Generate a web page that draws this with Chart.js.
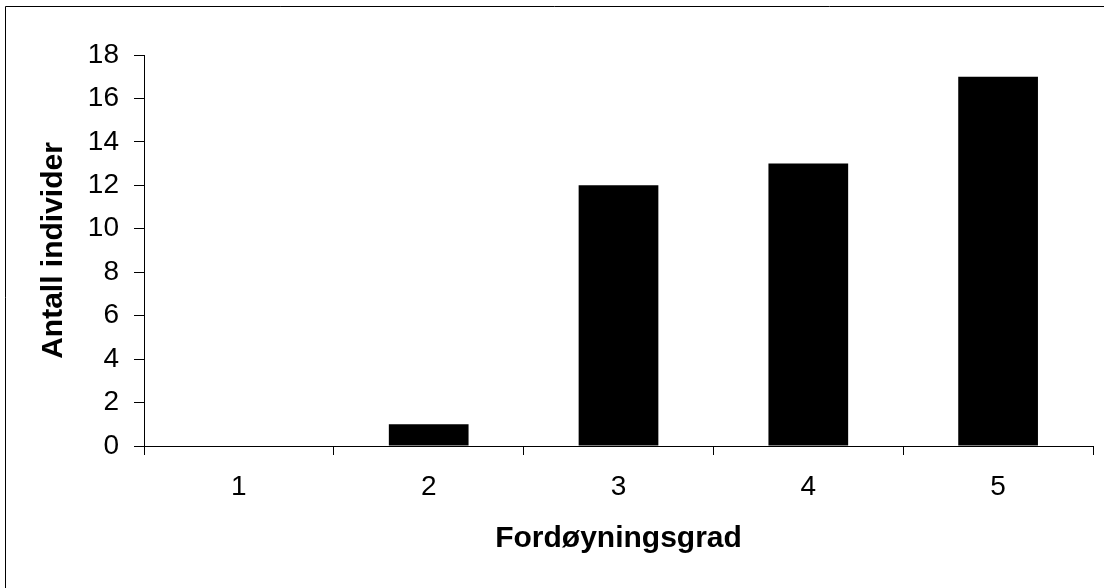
<!DOCTYPE html>
<html>
<head>
<meta charset="utf-8">
<script src="https://cdn.jsdelivr.net/npm/chart.js@4"></script>
<style>
  html, body { margin: 0; padding: 0; background: #fff; }
  #wrap { width: 1104px; height: 588px; position: relative; }
  canvas { display: block; }
</style>
</head>
<body>
<div id="wrap"><canvas id="c" width="1104" height="588"></canvas></div>
<script>
const categories = ['1', '2', '3', '4', '5'];
const counts = [0, 1, 12, 13, 17];
const yTitle = 'Antall individer';
const xTitle = 'Fordøyningsgrad';

const FONT = '"Liberation Sans", Arial, sans-serif';

const frame = {
  id: 'frame',
  beforeDraw(chart) {
    const ctx = chart.ctx;
    ctx.save();
    ctx.fillStyle = '#fff';
    ctx.fillRect(0, 0, chart.width, chart.height);
    ctx.strokeStyle = '#000';
    ctx.lineWidth = 1;
    ctx.beginPath();
    ctx.moveTo(5.5, chart.height);
    ctx.lineTo(5.5, 6.5);
    ctx.lineTo(chart.width, 6.5);
    ctx.stroke();
    ctx.restore();
  }
};

new Chart(document.getElementById('c'), {
  type: 'bar',
  data: {
    labels: categories,
    datasets: [{
      data: counts,
      backgroundColor: '#000',
      borderWidth: 0,
      barPercentage: 0.42,
      categoryPercentage: 1.0
    }]
  },
  options: {
    responsive: false,
    animation: false,
    devicePixelRatio: 1,
    layout: { padding: { top: 55, right: 11, left: 0, bottom: 0 } },
    plugins: { legend: { display: false }, tooltip: { enabled: false } },
    scales: {
      x: {
        afterFit(s) { s.height = 142; },
        grid: { offset: true, drawOnChartArea: false, tickLength: 9, color: '#000', tickColor: '#000' },
        border: { color: '#000', width: 1 },
        ticks: { color: '#000', font: { family: FONT, size: 28 }, padding: 15 },
        title: { display: true, text: xTitle, color: '#000', font: { family: FONT, size: 30, weight: 'bold' }, padding: { top: 0, bottom: 31 } }
      },
      y: {
        min: 0, max: 18,
        afterFit(s) { s.width = 144; },
        grid: { drawOnChartArea: false, tickLength: 10, color: '#000', tickColor: '#000' },
        border: { color: '#000', width: 1 },
        ticks: { stepSize: 2, color: '#000', font: { family: FONT, size: 28 }, padding: 15 },
        title: { display: true, text: yTitle, color: '#000', font: { family: FONT, size: 30, weight: 'bold' }, padding: { top: 36, bottom: 0 } }
      }
    }
  },
  plugins: [frame]
});
</script>
</body>
</html>
